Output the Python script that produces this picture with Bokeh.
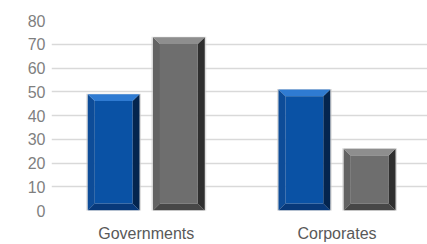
from bokeh.plotting import figure
from bokeh.models import Range1d, FixedTicker
from bokeh.embed import file_html
from bokeh.resources import INLINE

# ---- data ----
categories = ["Governments", "Corporates"]
series_blue = [49, 51]
series_gray = [73, 26]
y_ticks = [0, 10, 20, 30, 40, 50, 60, 70, 80]

# ---- layout ----
W, H = 427, 244
BL, BR, BT, BB = 51, 0, 20, 33
x_start, x_end = -0.4967, 1.4744
y_start, y_end = 0, 80
frame_w = W - BL - BR
frame_h = H - BT - BB
ppx = frame_w / (x_end - x_start)
ppy = frame_h / (y_end - y_start)

bar_w = 0.2715
offset = 0.171
bev_px = 7
bx = bev_px / ppx
by = bev_px / ppy

p = figure(width=W, height=H, output_backend="svg", toolbar_location=None,
           x_range=Range1d(x_start, x_end), y_range=Range1d(y_start, y_end),
           min_border_left=BL, min_border_right=BR, min_border_top=BT,
           min_border_bottom=BB)
p.outline_line_color = None
p.background_fill_color = "white"
p.border_fill_color = "white"

p.xgrid.visible = False
p.ygrid.grid_line_color = "#d9d9d9"
p.ygrid.grid_line_width = 1.5
p.ygrid.ticker = FixedTicker(ticks=y_ticks)

p.yaxis.ticker = FixedTicker(ticks=y_ticks)
p.xaxis.ticker = FixedTicker(ticks=list(range(len(categories))))
p.xaxis.major_label_overrides = {i: c for i, c in enumerate(categories)}
for ax in (p.xaxis[0], p.yaxis[0]):
    ax.axis_line_color = None
    ax.major_tick_line_color = None
    ax.minor_tick_line_color = None
    ax.major_tick_out = 0
    ax.major_tick_in = 0
    ax.major_label_text_font = "Liberation Sans"
    ax.major_label_text_font_size = "16px"
    ax.major_label_text_line_height = 1.0
p.yaxis.major_label_text_color = "#7f7f7f"
p.xaxis.major_label_text_color = "#595959"
p.yaxis.major_label_standoff = 6
p.xaxis.major_label_standoff = 14

palettes = {
    "blue": dict(face="#0a52a5", top="#2f7bd2", left="#0d4c98", right="#04254f", bottom="#08397a"),
    "gray": dict(face="#6e6e6e", top="#8e8e8e", left="#636363", right="#2f2f2f", bottom="#474747"),
}


def draw_series(values, shift, pal):
    xs_top, ys_top, xs_bot, ys_bot = [], [], [], []
    xs_l, ys_l, xs_r, ys_r = [], [], [], []
    fl, fr, fb, ft = [], [], [], []
    sl, sr, st = [], [], []
    for i, v in enumerate(values):
        c = i + shift
        L, R, T = c - bar_w / 2, c + bar_w / 2, v
        xs_top.append([L, R, R - bx, L + bx]); ys_top.append([T, T, T - by, T - by])
        xs_bot.append([L, R, R - bx, L + bx]); ys_bot.append([0, 0, by, by])
        xs_l.append([L, L, L + bx, L + bx]); ys_l.append([0, T, T - by, by])
        xs_r.append([R, R, R - bx, R - bx]); ys_r.append([0, T, T - by, by])
        fl.append(L + bx); fr.append(R - bx); fb.append(by); ft.append(T - by)
        sl.append(L - 1.5 / ppx); sr.append(R + 1.5 / ppx); st.append(T + 0.5 / ppy)
    # soft shadow
    p.quad(left=sl, right=sr, bottom=[-1.5 / ppy] * len(values), top=st,
           fill_color="#c8c8c8", fill_alpha=0.6, line_color=None)
    p.patches(xs_l, ys_l, fill_color=pal["left"], line_color=None)
    p.patches(xs_r, ys_r, fill_color=pal["right"], line_color=None)
    p.patches(xs_bot, ys_bot, fill_color=pal["bottom"], line_color=None)
    p.patches(xs_top, ys_top, fill_color=pal["top"], line_color=None)
    p.quad(left=fl, right=fr, bottom=fb, top=ft, fill_color=pal["face"], line_color=None)


draw_series(series_blue, -offset, palettes["blue"])
draw_series(series_gray, offset, palettes["gray"])

open("out.html", "w").write(file_html(p, INLINE))
